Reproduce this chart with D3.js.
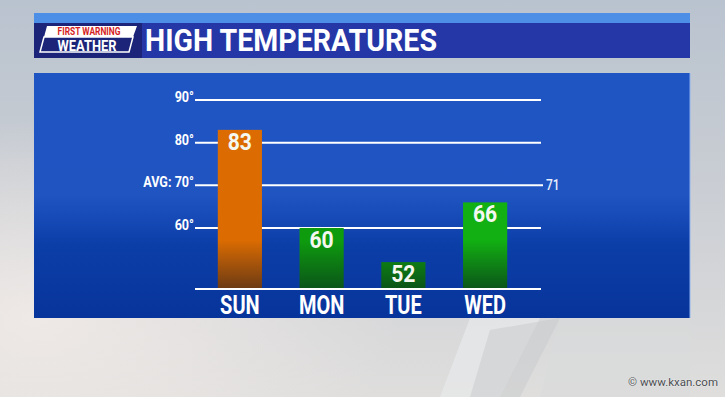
<!DOCTYPE html>
<html>
<head>
<meta charset="utf-8">
<script src="https://cdn.jsdelivr.net/npm/d3@7"></script>
<style>
  body { margin: 0; background: #d4d6da; }
  svg { display: block; }
  text { font-family: Roboto, "Liberation Sans", sans-serif; }
</style>
</head>
<body>
<svg id="chart" width="725" height="397"></svg>
<script>
// High temperatures

let days = ['SUN', 'MON', 'TUE', 'WED']
let highs = [83, 60, 52, 66]
let barColors = [['#dc6c02', '#6b3a14'], ['#0e9c0e', '#0b5419'], ['#0e9c0e', '#0b5419'], ['#12b012', '#0b5419']]
let ticks = [60, 70, 80, 90]
let tickLabels = ['60°', 'AVG: 70°', '80°', '90°']
let avgHigh = 71
let avgTick = 70
let baseValue = 45.7

let svg = d3.select('#chart')
let defs = svg.append('defs')

// background sky
let bg = defs.append('linearGradient').attr('id', 'bg')
  .attr('x1', 0).attr('y1', 0).attr('x2', 0).attr('y2', 1)
bg.append('stop').attr('offset', 0).attr('stop-color', '#b9c3cf')
bg.append('stop').attr('offset', 0.45).attr('stop-color', '#c9cdd3')
bg.append('stop').attr('offset', 1).attr('stop-color', '#dfdedd')

let bgLeft = defs.append('radialGradient').attr('id', 'bgLeft')
  .attr('cx', 0.05).attr('cy', 0.8).attr('r', 0.5)
bgLeft.append('stop').attr('offset', 0).attr('stop-color', '#f1ebe8').attr('stop-opacity', 0.9)
bgLeft.append('stop').attr('offset', 1).attr('stop-color', '#f1ebe8').attr('stop-opacity', 0)

svg.append('rect').attr('width', 725).attr('height', 397).attr('fill', 'url(#bg)')
svg.append('rect').attr('width', 725).attr('height', 397).attr('fill', 'url(#bgLeft)')

// light diagonal shapes bottom right
svg.append('path')
  .attr('d', 'M470,318 L540,318 L500,397 L440,397 Z')
  .attr('fill', '#e6e7e8').attr('opacity', 0.8)
svg.append('path')
  .attr('d', 'M490,330 L560,318 L520,397 L470,397 Z')
  .attr('fill', '#c8cacc').attr('opacity', 0.5)
svg.append('path')
  .attr('d', 'M560,318 L690,318 L690,397 L540,397 Z')
  .attr('fill', '#d8dadb').attr('opacity', 0.6)

// title bar
svg.append('rect').attr('x', 34).attr('y', 13).attr('width', 656).attr('height', 10).attr('fill', '#4d8fe6')
svg.append('rect').attr('x', 34).attr('y', 23).attr('width', 656).attr('height', 35).attr('fill', '#2537a6')
svg.append('rect').attr('x', 34).attr('y', 23).attr('width', 108).attr('height', 35).attr('fill', '#1b2478')

// logo
svg.append('path').attr('d', 'M47,26 L137,26 L133,37 L44,37 Z').attr('fill', '#ffffff')
svg.append('path').attr('d', 'M44,37 L133,37 L129,52 L40,52 Z')
  .attr('fill', '#1b2478').attr('stroke', '#ffffff').attr('stroke-width', 1.5)
svg.append('text')
  .attr('x', 0).attr('y', 0)
  .attr('transform', 'translate(89,35) scale(0.8,1)')
  .attr('text-anchor', 'middle')
  .attr('font-size', 10.5).attr('font-weight', 700)
  .attr('fill', '#d51e24')
  .text('FIRST WARNING')
svg.append('text')
  .attr('x', 0).attr('y', 0)
  .attr('transform', 'translate(87,51) scale(0.92,1)')
  .attr('text-anchor', 'middle')
  .attr('font-size', 14).attr('font-weight', 700)
  .attr('fill', '#ffffff')
  .text('WEATHER')

svg.append('text')
  .attr('x', 145).attr('y', 51)
  .attr('textLength', 292).attr('lengthAdjust', 'spacingAndGlyphs')
  .attr('font-size', 31).attr('font-weight', 700)
  .attr('fill', '#ffffff')
  .text('HIGH TEMPERATURES')

// chart panel
let panel = defs.append('linearGradient').attr('id', 'panel')
  .attr('x1', 0).attr('y1', 0).attr('x2', 0).attr('y2', 1)
panel.append('stop').attr('offset', 0).attr('stop-color', '#1f55c3')
panel.append('stop').attr('offset', 0.5).attr('stop-color', '#1f54c1')
panel.append('stop').attr('offset', 0.7).attr('stop-color', '#0c3ea8')
panel.append('stop').attr('offset', 1).attr('stop-color', '#07349a')

svg.append('rect').attr('x', 34).attr('y', 73).attr('width', 656).attr('height', 245)
  .attr('fill', 'url(#panel)')
svg.append('line').attr('x1', 690).attr('y1', 73).attr('x2', 690).attr('y2', 318)
  .attr('stroke', '#8fb3f0').attr('stroke-width', 1)

let y = d3.scaleLinear().domain([baseValue, 90]).range([289, 100])
let x = d3.scaleBand().domain(days).range([199, 526]).paddingInner(0.46).paddingOuter(0.23)

// gridlines
let grid = svg.append('g').attr('id', 'grid')
grid.selectAll('line')
  .data(ticks)
  .join('line')
  .attr('x1', 195)
  .attr('x2', d => d === avgTick ? 543 : 541)
  .attr('y1', d => y(d))
  .attr('y2', d => y(d))
  .style('stroke', '#ffffff')
  .style('stroke-width', 2)

grid.append('line')
  .attr('x1', 195).attr('x2', 541)
  .attr('y1', y(baseValue)).attr('y2', y(baseValue))
  .style('stroke', '#ffffff')
  .style('stroke-width', 2)

grid.selectAll('text.tick')
  .data(ticks)
  .join('text')
  .attr('class', 'tick')
  .attr('transform', d => `translate(194,${y(d) + 2}) scale(0.84,1)`)
  .attr('text-anchor', 'end')
  .attr('font-size', 15).attr('font-weight', 700)
  .attr('fill', '#ffffff')
  .text((d, i) => tickLabels[i])

grid.append('text')
  .attr('transform', `translate(546,${y(avgTick) + 5}) scale(0.8,1)`)
  .attr('font-size', 15).attr('font-weight', 500)
  .attr('fill', '#e8eefc')
  .text(avgHigh)

// bars
let grads = defs.selectAll('linearGradient.bar')
  .data(barColors)
  .join('linearGradient')
  .attr('class', 'bar')
  .attr('id', (d, i) => 'bar' + i)
  .attr('gradientUnits', 'userSpaceOnUse')
  .attr('x1', 0).attr('x2', 0).attr('y1', 240).attr('y2', 289)
grads.append('stop').attr('offset', 0).attr('stop-color', d => d[0])
grads.append('stop').attr('offset', 1).attr('stop-color', d => d[1])

let bars = svg.append('g').attr('id', 'bars')
bars.selectAll('rect')
  .data(highs)
  .join('rect')
  .attr('x', (d, i) => x(days[i]))
  .attr('width', x.bandwidth())
  .attr('y', d => y(d))
  .attr('height', d => y(baseValue) - y(d) - 1)
  .attr('fill', (d, i) => `url(#bar${i})`)

bars.selectAll('text.value')
  .data(highs)
  .join('text')
  .attr('class', 'value')
  .attr('transform', (d, i) => `translate(${x(days[i]) + x.bandwidth() / 2},${y(d) + 20}) scale(0.92,1)`)
  .attr('text-anchor', 'middle')
  .attr('font-size', 23).attr('font-weight', 700)
  .attr('fill', '#f4f8f0')
  .text(d => d)

bars.selectAll('text.day')
  .data(days)
  .join('text')
  .attr('class', 'day')
  .attr('transform', d => `translate(${x(d) + x.bandwidth() / 2},314) scale(0.8,1)`)
  .attr('text-anchor', 'middle')
  .attr('font-size', 25).attr('font-weight', 700)
  .attr('fill', '#ffffff')
  .text(d => d)

// credit
svg.append('text')
  .attr('x', 718).attr('y', 386)
  .attr('text-anchor', 'end')
  .attr('font-size', 11.5)
  .attr('fill', '#4a4c50')
  .attr('stroke', '#f4f4f4').attr('stroke-width', 0.6).attr('paint-order', 'stroke')
  .text('© www.kxan.com')
</script>
</body>
</html>
